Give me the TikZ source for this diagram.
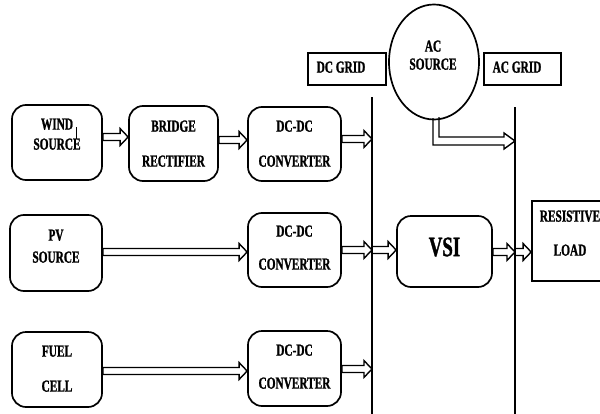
\documentclass[tikz,border=0pt]{standalone}
\usepackage{fontspec}
\newfontfamily\lab[FakeStretch=0.67,FakeBold=1.2]{Liberation Serif}
\usetikzlibrary{shapes.geometric,calc}
\tikzset{
  box/.style={draw, line width=1.2pt, rounded corners=10pt, inner sep=0pt},
  sqbox/.style={draw, line width=0.8pt, inner sep=0pt},
  txt/.style={inner sep=0pt, font=\lab\bfseries\fontsize{12}{14}\selectfont, text height=0.66em, text depth=0pt},
  bigtxt/.style={inner sep=0pt, font=\lab\bfseries\fontsize{20}{24}\selectfont, text height=0.66em, text depth=0pt},
  bus/.style={line width=0.9pt},
  harrow/.style={line width=1pt, to path={let \p1=(\tikztostart), \p2=(\tikztotarget) in
     (\x1,\y1-0.0875cm) -- (\x2-0.2cm,\y1-0.0875cm) -- (\x2-0.2cm,\y1-0.21cm) -- (\x2,\y1)
     -- (\x2-0.2cm,\y1+0.21cm) -- (\x2-0.2cm,\y1+0.0875cm) -- (\x1,\y1+0.0875cm) -- cycle}}
}
\begin{document}
\begin{tikzpicture}[x=0.025cm,y=-0.025cm]
\useasboundingbox (0,0) rectangle (600,414);
% boxes
\node[box, minimum width=2.25cm, minimum height=1.875cm] (wind) at (57,142.5) {};
\node[box, minimum width=2.225cm, minimum height=1.875cm] (bridge) at (173.5,143.5) {};
\node[box, minimum width=2.325cm, minimum height=1.85cm] (dc1) at (294.5,144) {};
\node[box, minimum width=2.3cm, minimum height=1.9cm] (pv) at (56,253) {};
\node[box, minimum width=2.325cm, minimum height=1.85cm] (dc2) at (294.5,250) {};
\node[box, minimum width=2.25cm, minimum height=1.875cm] (fuel) at (57,369.5) {};
\node[box, minimum width=2.325cm, minimum height=1.875cm] (dc3) at (294.5,368.5) {};
\node[box, minimum width=2.375cm, minimum height=1.775cm] (vsi) at (444.5,251.5) {};
\node[sqbox, line width=1.2pt, minimum width=1.9cm, minimum height=2.0cm] (load) at (570,241) {};
\node[sqbox, minimum width=1.95cm, minimum height=0.8cm] (dcgrid) at (347,69) {};
\node[sqbox, minimum width=1.925cm, minimum height=0.8cm] (acgrid) at (522.5,69) {};
\node[draw, ellipse, line width=1.2pt, inner sep=0pt, minimum width=2.25cm, minimum height=2.875cm] (acs) at (434,62) {};
% texts
\node[txt] (wind1) at (57,125) {WIND};
\node[txt] (wind2) at (57,145) {SOURCE};
\coordinate (mk1) at (76,127);
\coordinate (mk2) at (76,139);
\draw[line width=0.6pt] (mk1) -- (mk2);
\node[txt] (br1) at (173.5,127) {BRIDGE};
\node[txt] (br2) at (173.5,162) {RECTIFIER};
\node[txt] (dc1a) at (294.5,127) {DC-DC};
\node[txt] (dc1b) at (294.5,162) {CONVERTER};
\node[txt] (pv1) at (56,236) {PV};
\node[txt] (pv2) at (56,258) {SOURCE};
\node[txt] (dc2a) at (294.5,232) {DC-DC};
\node[txt] (dc2b) at (294.5,265) {CONVERTER};
\node[txt] (fu1) at (57,352) {FUEL};
\node[txt] (fu2) at (57,387) {CELL};
\node[txt] (dc3a) at (294.5,351) {DC-DC};
\node[txt] (dc3b) at (294.5,384) {CONVERTER};
\node[bigtxt] (vsit) at (444.5,251.5) {VSI};
\node[txt] (ld1) at (570,217) {RESISTIVE};
\node[txt] (ld2) at (570,251) {LOAD};
\node[txt] (dcg) at (341,68) {DC GRID};
\node[txt] (acg) at (517,68) {AC GRID};
\node[txt] (acs1) at (433,47) {AC};
\node[txt] (acs2) at (433,65) {SOURCE};
% buses
\coordinate (dctop) at (372,97);
\coordinate (dcbot) at (372,414);
\coordinate (actop) at (515,107);
\coordinate (acbot) at (515,414);
\draw[bus] (dctop) -- (dcbot);
\draw[bus] (actop) -- (acbot);
% arrows
\draw[harrow] (wind.east |- 0,137) to (bridge.west |- 0,137);
\draw[harrow] (bridge.east |- 0,140) to (dc1.west |- 0,140);
\draw[harrow] (dc1.east |- 0,139) to (dctop |- 0,139);
\draw[harrow] (pv.east |- 0,252) to (dc2.west |- 0,252);
\draw[harrow] (dc2.east |- 0,250) to (dctop |- 0,250);
\draw[harrow] (dctop |- 0,250) to (vsi.west |- 0,250);
\draw[harrow] (fuel.east |- 0,371) to (dc3.west |- 0,371);
\draw[harrow] (dc3.east |- 0,369) to (dctop |- 0,369);
\draw[harrow] (vsi.east |- 0,252) to (actop |- 0,252);
\draw[harrow] (actop |- 0,252) to (load.west |- 0,252);
% AC source arrow
\coordinate (actip) at (actop |- 0,141);
\draw[line width=1pt] (433,118) -- (433,145) -- (504,145) -- (504,149) -- (actip) -- (504,133) -- (504,137) -- (439,137) -- (439,117);
\end{tikzpicture}
\end{document}
